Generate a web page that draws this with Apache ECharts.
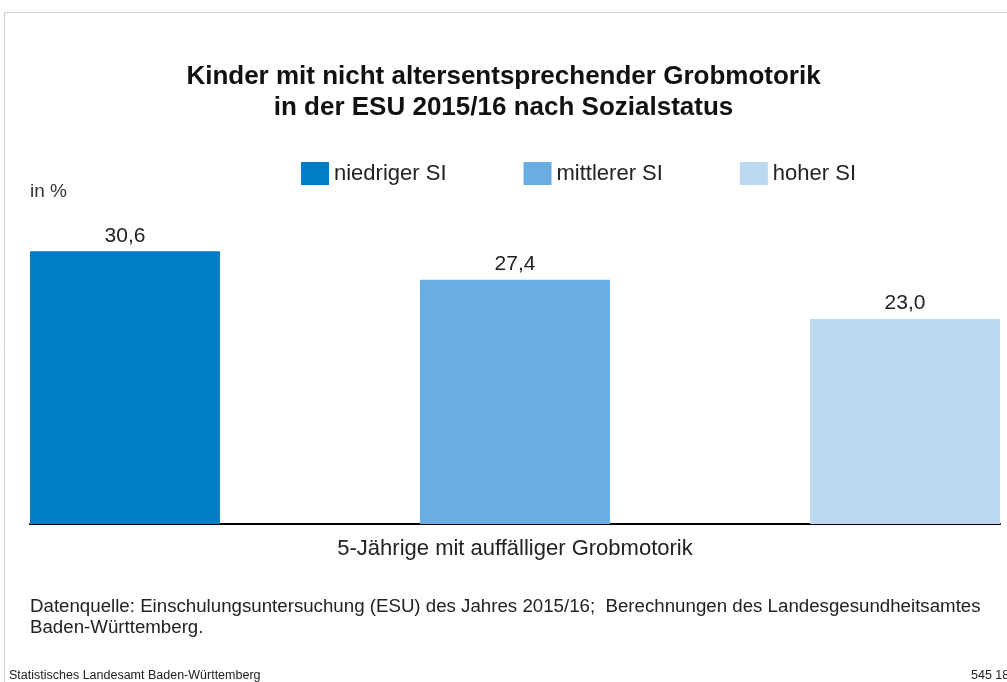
<!DOCTYPE html>
<html>
<head>
<meta charset="utf-8">
<script src="https://cdn.jsdelivr.net/npm/echarts@6/dist/echarts.min.js"></script>
<style>html,body{margin:0;padding:0;background:#fff;}#c{width:1007px;height:682px;}</style>
</head>
<body>
<div id="c"></div>
<script>
const categories = ['5-Jährige mit auffälliger Grobmotorik'];
const seriesNames = ['niedriger SI', 'mittlerer SI', 'hoher SI'];
const niedrigerSI = [30.6];
const mittlererSI = [27.4];
const hoherSI = [23.0];
const colors = ['#007dc6', '#69aee0', '#bcd7f0'];

const font = '"Liberation Sans", Arial, sans-serif';
const chart = echarts.init(document.getElementById('c'));
const fmt = p => p.value.toFixed(1).replace('.', ',');
const values = [niedrigerSI, mittlererSI, hoherSI];
chart.setOption({
  animation: false,
  textStyle: { fontFamily: font },
  title: {
    text: 'Kinder mit nicht altersentsprechender Grobmotorik\nin der ESU 2015/16 nach Sozialstatus',
    left: 'center', top: 56,
    textStyle: { fontSize: 26, fontWeight: 'bold', color: '#111', lineHeight: 31, fontFamily: font }
  },
  legend: {
    top: 157, left: 296,
    itemWidth: 28, itemHeight: 23, itemGap: 77,
    textStyle: { fontSize: 22, color: '#222', fontFamily: font },
    data: seriesNames.map((n, i) => ({ name: n, icon: 'rect', itemStyle: { color: colors[i] } }))
  },
  grid: { left: 30, right: 7, top: 212, bottom: 158 },
  xAxis: {
    type: 'category', data: categories,
    axisLine: { lineStyle: { color: '#000', width: 2 } },
    axisTick: { show: false },
    axisLabel: { fontSize: 22, color: '#222', margin: 14, fontFamily: font }
  },
  yAxis: { type: 'value', min: 0, max: 35, show: false },
  series: seriesNames.map((n, i) => ({
    name: n, type: 'bar', data: values[i],
    barWidth: 190, barGap: '105.3%', barCategoryGap: 0,
    itemStyle: { color: colors[i] },
    label: { show: true, position: 'top', distance: 5, fontSize: 21, color: '#222', formatter: fmt, fontFamily: font }
  })),
  graphic: [
    { type: 'polyline', shape: { points: [[4.5, 700], [4.5, 12.5], [1010, 12.5]] }, style: { stroke: '#d0d0d0', fill: null, lineWidth: 1 }, silent: true },
    { type: 'text', left: 30, top: 182, style: { text: 'in %', fontSize: 19, fill: '#333', fontFamily: font } },
    { type: 'text', left: 30, top: 596, style: { text: 'Datenquelle: Einschulungsuntersuchung (ESU) des Jahres 2015/16;  Berechnungen des Landesgesundheitsamtes\nBaden-Württemberg.', fontSize: 18.7, lineHeight: 21, fill: '#222', fontFamily: font } },
    { type: 'text', left: 9, top: 669, style: { text: 'Statistisches Landesamt Baden-Württemberg', fontSize: 12.5, fill: '#222', fontFamily: font } },
    { type: 'text', left: 971, top: 669, style: { text: '545 18', fontSize: 12.5, fill: '#222', fontFamily: font } }
  ]
});
</script>
</body>
</html>
